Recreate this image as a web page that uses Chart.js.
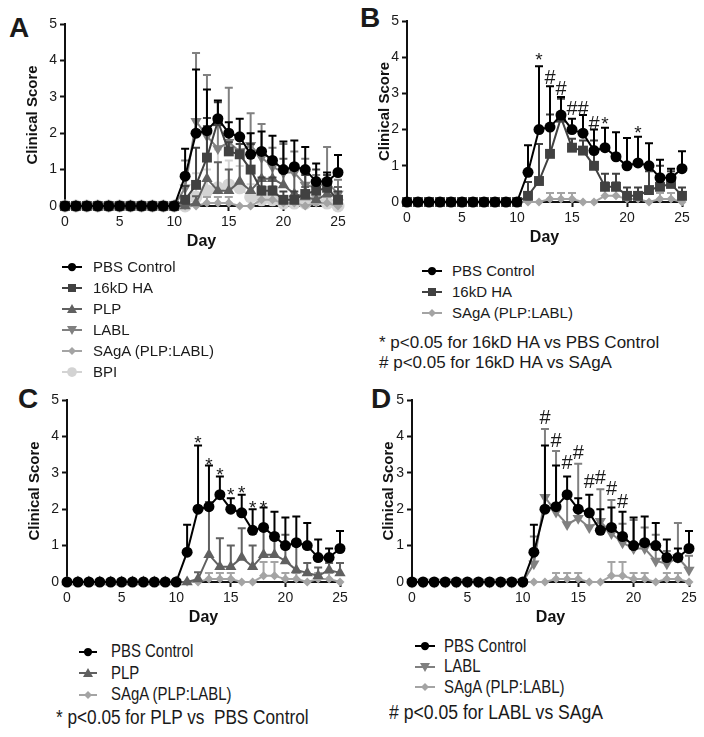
<!DOCTYPE html>
<html>
<head>
<meta charset="utf-8">
<script src="https://cdn.jsdelivr.net/npm/chart.js@4.4.1/dist/chart.umd.min.js"></script>
<style>
  body { margin: 0; background: #fff; font-family: "Liberation Sans", Arial, sans-serif; color: #1a1a1a; }
  #fig { position: relative; width: 704px; height: 737px; overflow: hidden; }
  canvas, .letter, .legend, .note { position: absolute; }
  .letter { font-size: 28px; font-weight: bold; line-height: 28px; }
  .legend .row { display: flex; align-items: center; white-space: nowrap; }
  .legend svg { flex: none; }
  .note { white-space: nowrap; }
  .sq { display: inline-block; transform-origin: 0 50%; }
</style>
</head>
<body>
<div id="fig">
  <div class="letter" style="left:9px;top:14px">A</div>
  <div class="letter" style="left:360px;top:4px">B</div>
  <div class="letter" style="left:18px;top:385px">C</div>
  <div class="letter" style="left:371px;top:385px">D</div>

  <canvas id="cA" width="352" height="256" style="left:0;top:0"></canvas>
  <canvas id="cB" width="352" height="256" style="left:352px;top:0"></canvas>
  <canvas id="cC" width="352" height="256" style="left:0;top:380px"></canvas>
  <canvas id="cD" width="352" height="256" style="left:352px;top:380px"></canvas>

  <div class="legend" id="legA"></div>
  <div class="legend" id="legB"></div>
  <div class="legend" id="legC"></div>
  <div class="legend" id="legD"></div>

  <div class="note" style="left:379px;top:333px;font-size:17px;line-height:20px">* p&lt;0.05 for 16kD HA vs PBS Control</div>
  <div class="note" style="left:379px;top:353px;font-size:17px;line-height:20px"># p&lt;0.05 for 16kD HA vs SAgA</div>
  <div class="note" style="left:56px;top:705px;font-size:20px;line-height:24px"><span class="sq" style="transform:scaleX(.86)">* p&lt;0.05 for PLP vs&nbsp; PBS Control</span></div>
  <div class="note" style="left:389px;top:700px;font-size:20px;line-height:24px"><span class="sq" style="transform:scaleX(.88)"># p&lt;0.05 for LABL vs SAgA</span></div>
</div>

<script>
// day 0..25
const days = [0,1,2,3,4,5,6,7,8,9,10,11,12,13,14,15,16,17,18,19,20,21,22,23,24,25];

// mean clinical score per group
const pbsMean  = [0,0,0,0,0,0,0,0,0,0,0,0.82,2.0,2.07,2.4,2.0,1.9,1.42,1.5,1.25,1.0,1.08,1.0,0.67,0.67,0.92];
const haMean   = [0,0,0,0,0,0,0,0,0,0,0,0.17,0.58,1.33,2.33,1.5,1.42,1.0,0.42,0.42,0.17,0.17,0.33,0.42,0.5,0.17];
const plpMean  = [0,0,0,0,0,0,0,0,0,0,0,0,0.08,0.75,0.42,0.42,0.67,0.42,0.75,0.75,0.58,0.33,0.25,0.17,0.33,0.25];
const lablMean = [0,0,0,0,0,0,0,0,0,0,0,0.5,2.33,1.92,1.58,1.75,1.5,1.67,1.33,1.08,0.92,0.92,0.58,0.5,0.67,0.33];
const sagaMean = [0,0,0,0,0,0,0,0,0,0,0,0,0,0.08,0.08,0.08,0,0,0.17,0.17,0.08,0.08,0,0.08,0.08,0];
const bpiMean  = [0,0,0,0,0,0,0,0,0,0,0,0,0.25,0.42,0.5,0.58,0.5,0.25,0.17,0.17,0.08,0.08,0.08,0.17,0.08,0];

// upper error (SEM)
const pbsSem  = [0,0,0,0,0,0,0,0,0,0,0,0.75,1.75,1.13,0.5,0.3,0.5,0.58,0.55,0.68,0.77,0.72,0.62,0.5,0.25,0.48];
const haSem   = [0,0,0,0,0,0,0,0,0,0,0,0.38,1.02,1.09,0.52,0.25,0.28,0.7,0.36,0.36,0.23,0.23,0.52,0.58,0.35,0.23];
const plpSem  = [0,0,0,0,0,0,0,0,0,0,0,0,0.19,1.45,0.78,0.58,0.81,0.58,0.8,0.55,0.72,0.67,0.27,0.23,0.19,0.27];
const lablSem = [0,0,0,0,0,0,0,0,0,0,0,0.75,1.87,1.68,0.82,1.5,0.45,0.88,0.92,0.52,0.78,0.58,0.72,0.35,0.95,0.39];
const sagaSem = [0,0,0,0,0,0,0,0,0,0,0,0,0,0.17,0.17,0.17,0,0,0.38,0.38,0.17,0.17,0,0.17,0.17,0];
const bpiSem  = [0,0,0,0,0,0,0,0,0,0,0,0,0.65,0.58,1.05,0.67,0.6,0.35,0.33,0.33,0.17,0.17,0.17,0.33,0.17,0];

// significance marks (day, height of symbol)
const bStarDays = [12, 18, 21];
const bStarVals = [4.05, 2.3, 2.05];
const bHashDays = [13, 14, 15, 16, 17];
const bHashVals = [3.45, 3.15, 2.6, 2.6, 2.2];
const cStarDays = [12, 13, 14, 15, 16, 17, 18];
const cStarVals = [3.96, 3.35, 3.08, 2.53, 2.58, 2.17, 2.17];
const dHashDays = [12, 13, 14, 15, 16, 17, 18, 19];
const dHashVals = [4.53, 3.9, 3.3, 3.57, 2.78, 2.9, 2.6, 2.24];

const xStep = 5, xMax = 25, yStep = 1, yMax = 5;

const groups = {
  'PBS Control':     { mean: pbsMean,  sem: pbsSem },
  '16kD HA':         { mean: haMean,   sem: haSem },
  'PLP':             { mean: plpMean,  sem: plpSem },
  'LABL':            { mean: lablMean, sem: lablSem },
  'SAgA (PLP:LABL)': { mean: sagaMean, sem: sagaSem },
  'BPI':             { mean: bpiMean,  sem: bpiSem }
};

const look = {
  'PBS Control':     { color: '#000000', shape: 'circle',   r: 5.5 },
  '16kD HA':         { color: '#414141', shape: 'rect',     r: 7 },
  'PLP':             { color: '#606060', shape: 'triangle', r: 6.5 },
  'LABL':            { color: '#808080', shape: 'triangle', r: 6.5, rot: 180 },
  'SAgA (PLP:LABL)': { color: '#a4a4a4', shape: 'rectRot',  r: 4.5 },
  'BPI':             { color: '#d3d3d3', shape: 'circle',   r: 6.5 }
};

const FONT = '"Liberation Sans", Arial, sans-serif';

const errorBars = {
  id: 'errorBars',
  beforeDatasetDraw(chart, args) {
    const ds = chart.data.datasets[args.index];
    const x = chart.scales.x, y = chart.scales.y, ctx = chart.ctx;
    ctx.save();
    ctx.strokeStyle = ds.borderColor;
    ctx.lineWidth = 2;
    ds.data.forEach((p, i) => {
      const e = ds.sem[i];
      if (!e) return;
      const px = x.getPixelForValue(p.x);
      const y0 = y.getPixelForValue(p.y);
      const y1 = y.getPixelForValue(p.y + e);
      ctx.beginPath();
      ctx.moveTo(px, y0); ctx.lineTo(px, y1);
      ctx.moveTo(px - 4, y1); ctx.lineTo(px + 4, y1);
      ctx.stroke();
    });
    ctx.restore();
  }
};

const sigMarks = {
  id: 'sig',
  afterDatasetsDraw(chart, args, opts) {
    const x = chart.scales.x, y = chart.scales.y, ctx = chart.ctx;
    (opts.sets || []).forEach(s => {
      ctx.save();
      ctx.font = s.size + 'px ' + FONT;
      ctx.fillStyle = '#1a1a1a';
      ctx.textAlign = 'center';
      ctx.textBaseline = 'alphabetic';
      s.days.forEach((d, i) => {
        ctx.fillText(s.sym, x.getPixelForValue(d), y.getPixelForValue(s.vals[i]) + s.size * s.k);
      });
      ctx.restore();
    });
  }
};

function axis(extra) {
  return Object.assign({
    grid: { display: true, drawOnChartArea: false, drawTicks: true, tickLength: 5, tickColor: '#111', tickWidth: 2 },
    border: { display: true, color: '#111', width: 2 }
  }, extra);
}

function makePanel(id, names, area, yPad, xPad, sets) {
  const cv = document.getElementById(id);
  const W = cv.width, H = cv.height;
  new Chart(cv, {
    type: 'line',
    data: {
      datasets: names.map(n => ({
        label: n,
        data: days.map((d, i) => ({ x: d, y: groups[n].mean[i] })),
        sem: groups[n].sem,
        borderColor: look[n].color,
        backgroundColor: look[n].color,
        pointBackgroundColor: look[n].color,
        pointBorderColor: look[n].color,
        pointBorderWidth: 0,
        pointStyle: look[n].shape,
        pointRadius: look[n].r,
        pointRotation: look[n].rot || 0,
        borderWidth: 2,
        tension: 0,
        clip: false
      }))
    },
    options: {
      responsive: false,
      animation: false,
      events: [],
      layout: { padding: { left: 0, top: area.t, right: W - area.r, bottom: 0 } },
      plugins: { legend: { display: false }, tooltip: { enabled: false }, sig: { sets: sets } },
      scales: {
        x: axis({
          type: 'linear', min: 0, max: xMax,
          ticks: { stepSize: xStep, autoSkip: false, maxRotation: 0, padding: 3, color: '#1a1a1a', font: { family: FONT, size: 14 } },
          title: { display: true, text: 'Day', color: '#111', font: { family: FONT, size: 16, weight: 'bold', lineHeight: 1.2 }, padding: { top: 0, bottom: xPad } },
          afterFit: s => { s.height = H - area.b; }
        }),
        y: axis({
          min: 0, max: yMax,
          ticks: { stepSize: yStep, padding: 3, color: '#1a1a1a', font: { family: FONT, size: 14 } },
          title: { display: true, text: 'Clinical Score', color: '#111', font: { family: FONT, size: 15, weight: 'bold', lineHeight: 1.2 }, padding: { top: yPad, bottom: 0 } },
          afterFit: s => { s.width = area.l; }
        })
      }
    },
    plugins: [errorBars, sigMarks]
  });
}

function markerSvg(n, w) {
  const s = look[n], c = s.color, cx = w / 2, cy = 7;
  let m = '';
  if (s.shape === 'circle') m = `<circle cx="${cx}" cy="${cy}" r="${s.r * 0.75}" fill="${c}"/>`;
  if (s.shape === 'rect') m = `<rect x="${cx - 4}" y="${cy - 4}" width="8" height="8" fill="${c}"/>`;
  if (s.shape === 'rectRot') m = `<polygon points="${cx},${cy - 4} ${cx + 4},${cy} ${cx},${cy + 4} ${cx - 4},${cy}" fill="${c}"/>`;
  if (s.shape === 'triangle') {
    m = s.rot ? `<polygon points="${cx - 5},${cy - 4} ${cx + 5},${cy - 4} ${cx},${cy + 5}" fill="${c}"/>`
              : `<polygon points="${cx - 5},${cy + 4} ${cx + 5},${cy + 4} ${cx},${cy - 5}" fill="${c}"/>`;
  }
  return `<svg width="${w}" height="14"><line x1="0" y1="7" x2="${w}" y2="7" stroke="${c}" stroke-width="2"/>${m}</svg>`;
}

function makeLegend(id, names, left, top, rowH, mw, gap, size, sx) {
  const el = document.getElementById(id);
  el.style.left = left + 'px';
  el.style.top = top + 'px';
  el.innerHTML = names.map(n =>
    `<div class="row" style="height:${rowH}px;font-size:${size}px">${markerSvg(n, mw)}` +
    `<span class="sq" style="margin-left:${gap}px;transform:scaleX(${sx})">${n}</span></div>`
  ).join('');
}

const namesA = ['PBS Control', '16kD HA', 'PLP', 'LABL', 'SAgA (PLP:LABL)', 'BPI'];
const namesB = ['PBS Control', '16kD HA', 'SAgA (PLP:LABL)'];
const namesC = ['PBS Control', 'PLP', 'SAgA (PLP:LABL)'];
const namesD = ['PBS Control', 'LABL', 'SAgA (PLP:LABL)'];

makePanel('cA', namesA, { l: 65, t: 24, r: 338, b: 206 }, 24, 4.4, []);
makePanel('cB', namesB, { l: 55, t: 21, r: 330, b: 202 }, 24, 8.4, [
  { sym: '*', days: bStarDays, vals: bStarVals, size: 19, k: 0.57 },
  { sym: '#', days: bHashDays, vals: bHashVals, size: 20, k: 0.36 }
]);
makePanel('cC', namesC, { l: 67, t: 20, r: 340, b: 202 }, 26, 8.4, [
  { sym: '*', days: cStarDays, vals: cStarVals, size: 19, k: 0.57 }
]);
makePanel('cD', namesD, { l: 60, t: 20, r: 337, b: 202 }, 28, 8.4, [
  { sym: '#', days: dHashDays, vals: dHashVals, size: 20, k: 0.36 }
]);

makeLegend('legA', namesA, 62, 256, 21, 20, 11, 15, 1);
makeLegend('legB', namesB, 422, 260, 21, 20, 10, 15, 1);
makeLegend('legC', namesC, 79, 641, 21.5, 18, 14, 18, 0.83);
makeLegend('legD', namesD, 415, 636, 20.5, 20, 9, 18, 0.83);
</script>
</body>
</html>
